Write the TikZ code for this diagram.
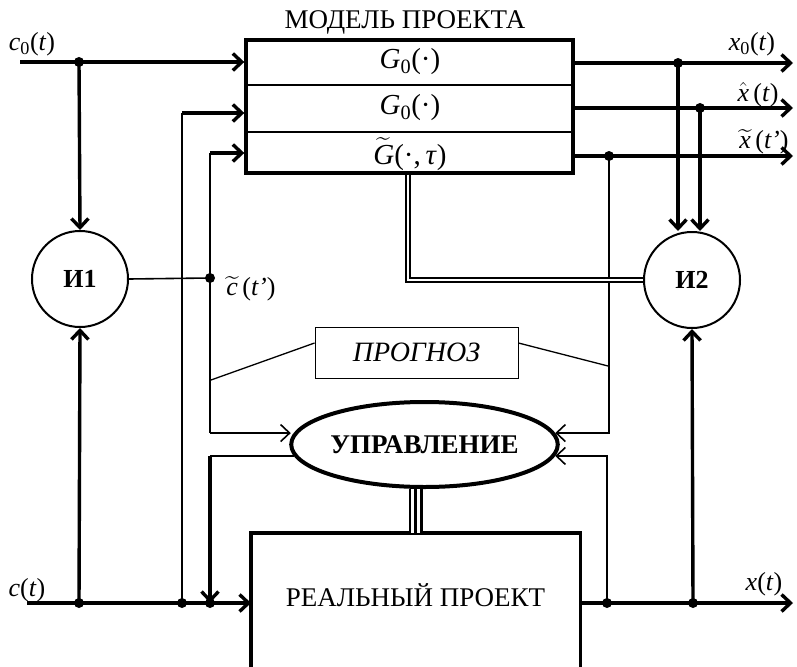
\documentclass[tikz,border=0pt]{standalone}
\usepackage{fix-cm}
\usepackage{amsmath}
\usepackage{fontspec}
\setmainfont{Liberation Serif}
\usetikzlibrary{arrows.meta,shapes.geometric,calc}
\begin{document}
\begin{tikzpicture}[x=1pt,y=-1pt,
  thk/.style={line width=3.4pt},
  med/.style={line width=2.4pt},
  thn/.style={line width=1.6pt},
  arr/.style={-{Straight Barb[length=9pt,width=17pt]}},
  dot/.style={circle,fill,inner sep=0pt,minimum size=10pt},
  txt/.style={font=\fontsize{27}{29}\selectfont, inner sep=0pt},
  gtxt/.style={font=\fontsize{29}{31}\selectfont, inner sep=0pt},
  lbl/.style={font=\fontsize{26}{28}\selectfont, inner sep=0pt},
  dbl/.style={double,line width=2pt,double distance=2.6pt,line join=miter},
]
\useasboundingbox (0,0) rectangle (797,666);
\clip (0,0) rectangle (797,666);

% model box
\node[draw,line width=3.4pt,minimum width=327pt,minimum height=133pt,inner sep=0pt] (model) at (409.5,106.5) {};
\node[txt] (title) at (405,22) {МОДЕЛЬ ПРОЕКТА};
\draw[line width=1.4pt,dash pattern=on 1.2pt off 0.8pt] (model.west |- 0,85) -- (model.east |- 0,85);
\draw[line width=1.4pt,dash pattern=on 1.2pt off 0.8pt] (model.west |- 0,132) -- (model.east |- 0,132);
\node[gtxt] (g1) at (410,62) {\textit{G}\textsubscript{0}(·)};
\node[gtxt] (g2) at (410,108) {\textit{G}\textsubscript{0}(·)};
\node[gtxt] (g3) at (410,154) {$\widetilde{\text{\textit{G}}}$(·,\,\textit{τ})};

% circles, ellipse, boxes
\node[circle,draw,line width=2pt,minimum size=96pt,inner sep=0pt,font=\fontsize{26}{28}\selectfont\bfseries] (i1) at (80,279) {И1};
\node[circle,draw,line width=2pt,minimum size=96pt,inner sep=0pt,font=\fontsize{26}{28}\selectfont\bfseries] (i2) at (692,280) {И2};
\node[ellipse,draw,line width=4pt,minimum width=265pt,minimum height=85pt,inner sep=0pt,font=\fontsize{27}{29}\selectfont\bfseries] (upr) at (424.5,444.5) {УПРАВЛЕНИЕ};
\node[draw,line width=0.9pt,minimum width=203pt,minimum height=51pt,inner sep=0pt,font=\fontsize{28}{30}\selectfont\itshape] (prog) at (416.5,352.5) {ПРОГНОЗ};
\node[minimum width=329pt,minimum height=150pt,inner sep=0pt,anchor=north west] (real) at (251,533) {};
\draw[thk] (real.south west) -- (real.north west) -- (real.north east) -- (real.south east);
\node[txt] (realtxt) at (415.5,595) {РЕАЛЬНЫЙ ПРОЕКТ};

% labels
\node[lbl] (lc0) at (32,44) {\textit{c}\textsubscript{0}(\textit{t})};
\node[lbl] (lc) at (27,590) {\textit{c}(\textit{t})};
\node[lbl] (lx) at (764,584) {\textit{x}(\textit{t})};
\node[lbl] (lx0) at (752,44) {\textit{x}\textsubscript{0}(\textit{t})};
\node[lbl] (lxh) at (758,95) {$\hat{\text{\textit{x}}}$\,(\textit{t})};
\node[lbl] (lxt) at (764,142) {$\widetilde{\text{\textit{x}}}$\,(\textit{t’})};
\node[lbl] (lct) at (251,289) {$\widetilde{\text{\textit{c}}}$\,(\textit{t’})};

% coordinates
\coordinate (c0s) at (20,62);
\coordinate (c0j) at (79,62);
\coordinate (cs) at (27,603);
\coordinate (cj1) at (79,603);
\coordinate (cj2) at (182,603);
\coordinate (cj3) at (210,603);
\coordinate (in2) at (182,113);
\coordinate (in3) at (210,153);
\coordinate (ct) at (210,278);
\coordinate (x0e) at (793,63);
\coordinate (xhe) at (793,108);
\coordinate (xte) at (793,156);
\coordinate (xe) at (793,603);
\coordinate (j1) at (678,63);
\coordinate (j2) at (700,108);
\coordinate (j3) at (609,156);
\coordinate (xj1) at (607,603);
\coordinate (xj2) at (693,603);
\coordinate (pl) at (211,380);
\coordinate (pr) at (608,366);

% left inputs
\draw[thk,arr] (c0s) -- (model.west |- c0s);
\draw[thk,arr] (c0j) -- (i1.north);
\draw[thk,arr] (cs) -- (real.west |- cs);
\draw[thk,arr] (cj1) -- (i1.south);
\draw[thn] (cj2) -- (in2);
\draw[thk,arr] (in2) -- (model.west |- in2);
\draw[thn] (i1.east) -- (ct);
\draw[med] (ct) -- (in3);
\draw[thk,arr] (in3) -- (model.west |- in3);
\draw[med] (ct) -- (upr.175 -| ct);
\draw[thn,arr,shorten >=3pt] (upr.175 -| ct) -- (upr.175);
\draw[thn] (upr.185) -- (upr.185 -| cj3);
\draw[thk,arr] (upr.185 -| cj3) -- (cj3);

% right outputs
\draw[thk,arr] (model.east |- x0e) -- (x0e);
\draw[thk,arr] (model.east |- xhe) -- (xhe);
\draw[thk,arr] (model.east |- xte) -- (xte);
\draw[thk,arr] (real.east |- xe) -- (xe);
\draw[thk,arr] (j1) -- (i2.north -| j1);
\draw[thk,arr] (j2) -- (i2.north -| j2);
\draw[thk,arr] (xj2) -- (i2.south);
\draw[thn,arr] (j3) |- (upr.5);
\draw[thn,arr] (xj1) |- (upr.355);

% prognoz connectors
\draw[line width=1.3pt] ([yshift=9.5pt]prog.west) -- (pl);
\draw[line width=1.3pt] ([yshift=9.5pt]prog.east) -- (pr);

% double and triple links
\draw[dbl] (model.south -| 408,0) |- (i2.west);
\draw[double,line width=2.5pt,double distance=8.9pt] (upr.south -| real.north) -- (real.north);
\draw[line width=2.5pt] (upr.south -| real.north) -- (real.north);

% dots
\foreach \p in {c0j,cj1,cj2,cj3,ct,j1,j2,j3,xj1,xj2}
  \node[dot] at (\p) {};
\end{tikzpicture}
\end{document}
